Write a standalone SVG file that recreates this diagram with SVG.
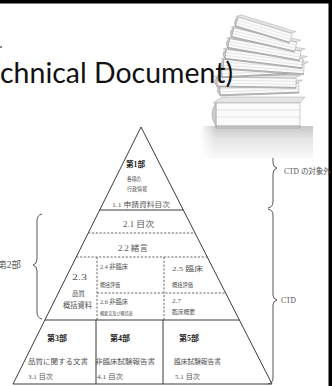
<svg xmlns="http://www.w3.org/2000/svg" width="332" height="386" viewBox="0 0 332 386">
  <defs>
    <style>
      .ln { stroke: #3a3a3a; stroke-width: 1; fill: none; }
      .dash { stroke: #555; stroke-width: 0.9; fill: none; stroke-dasharray: 2.2 1.6; }
      .brace { stroke: #444; stroke-width: 0.9; fill: none; }
      .jp { font-family: "Liberation Serif", "Noto Sans CJK JP", serif; fill: #555; }
      .bold { font-family: "Liberation Serif", "Noto Sans CJK JP", serif; font-weight: bold; fill: #222; }
      .title { font-family: Lato, "Liberation Sans", sans-serif; fill: #111; }
      .page { fill: #fbfbfb; stroke: #9c9c9c; stroke-width: 0.5; }
      .cover { fill: #e4e4e4; stroke: #a8a8a8; stroke-width: 0.5; }
      .spine { fill: #cfcfcf; stroke: #8f8f8f; stroke-width: 0.5; }
      .leaf { stroke: #c4c4c4; stroke-width: 0.4; }
    </style>
    <linearGradient id="shade" x1="0" y1="0" x2="0" y2="1">
      <stop offset="0" stop-color="#c6c6c6"/>
      <stop offset="0.4" stop-color="#e4e4e4"/>
      <stop offset="1" stop-color="#f9f9f9"/>
    </linearGradient>
    <linearGradient id="fadeL" x1="0" y1="0" x2="1" y2="0">
      <stop offset="0" stop-color="#fff" stop-opacity="1"/>
      <stop offset="1" stop-color="#fff" stop-opacity="0"/>
    </linearGradient>
    <!-- one closed book lying flat, origin at bottom-left of the page block -->
    <g id="book">
      <path class="cover" d="M0,-10 L6,-13 L86,-13 L80,-10 Z"/>
      <rect class="page" x="3" y="-10" width="79" height="9"/>
      <line class="leaf" x1="3" y1="-7" x2="82" y2="-7"/>
      <line class="leaf" x1="3" y1="-4" x2="82" y2="-4"/>
      <path class="spine" d="M3,-10 Q-2,-5 3,-1 L3,0 L82,0 L82,-1 L3,-1 Z"/>
    </g>
  </defs>

  <!-- slide frame -->
  <rect x="0" y="0" width="332" height="3.5" fill="#000"/>
  <rect x="328.5" y="0" width="3.5" height="386" fill="#000"/>

  <!-- brace annotations -->
  <g id="connectors">
    <path class="brace" d="M42,214 Q37,215 37,221 L37,259 Q37,264 33,265 Q37,266 37,271 L37,312 Q37,318 42,319"/>
    <path class="brace" d="M268,126 Q273,127 273,133 L273,163 Q273,167 277,168 Q273,169 273,174 L273,202 Q273,207 268,208"/>
    <path class="brace" d="M268,209 Q273,210 273,215 L273,295 Q273,299 277,300 Q273,301 273,305 L273,378 Q273,383 268,384"/>
  </g>

  <!-- stack of books -->
  <g id="books">
    <rect x="200" y="126" width="113" height="32" fill="url(#shade)"/>
    <rect x="200" y="126" width="16" height="32" fill="url(#fadeL)"/>
    <!-- bottom volume -->
    <path class="cover" d="M213,103 L222,97 L305,97 L300,103 Z"/>
    <rect class="page" x="216" y="103" width="84" height="23"/>
    <line class="leaf" x1="216" y1="110" x2="300" y2="110"/>
    <line class="leaf" x1="216" y1="117" x2="300" y2="117"/>
    <path class="spine" d="M216,103 Q208,114 216,126 L216,128 L300,128 L300,126 L216,126 Z"/>
    <use href="#book" transform="translate(217,96) rotate(-2)"/>
    <use href="#book" transform="translate(214,87) rotate(1)"/>
    <use href="#book" transform="translate(219,78) rotate(-3)"/>
    <use href="#book" transform="translate(220,69) rotate(4) scale(1.02,1)"/>
    <use href="#book" transform="translate(222,59) rotate(7) scale(0.98,1)"/>
    <use href="#book" transform="translate(225,48) rotate(10) scale(0.92,1)"/>
    <use href="#book" transform="translate(229,37) rotate(13) scale(0.82,1)"/>
    <use href="#book" transform="translate(233,26) rotate(17) scale(0.72,1)"/>
  </g>

  <!-- heading, printed over the picture -->
  <rect x="0" y="46" width="2" height="2" fill="#888"/>
  <text class="title" x="0" y="83" font-size="28" textLength="233" lengthAdjust="spacingAndGlyphs">chnical Document)</text>

  <!-- pyramid outline and dividers -->
  <g id="pyramid">
    <path class="ln" d="M13,384 L141,127 L272,384 Z"/>
    <line class="ln" x1="99.7" y1="210" x2="183.3" y2="210"/>
    <line class="dash" x1="88.2" y1="233" x2="195.1" y2="233"/>
    <line class="dash" x1="76.3" y1="257" x2="207.3" y2="257"/>
    <line class="dash" x1="97" y1="293" x2="225.7" y2="293"/>
    <line class="dash" x1="97" y1="257" x2="97" y2="320"/>
    <line class="dash" x1="164" y1="257" x2="164" y2="320"/>
    <line class="ln" x1="44.9" y1="320" x2="239.4" y2="320"/>
    <line class="ln" x1="96" y1="320" x2="96" y2="384"/>
    <line class="ln" x1="163" y1="320" x2="163" y2="384"/>
  </g>

  <g id="part1">
    <text class="bold" x="126" y="167" font-size="7.5" textLength="19" lengthAdjust="spacingAndGlyphs">第1部</text>
    <text class="jp" x="127" y="180.5" font-size="6" textLength="14" lengthAdjust="spacingAndGlyphs">各極の</text>
    <text class="jp" x="127" y="190.5" font-size="6" textLength="20" lengthAdjust="spacingAndGlyphs">行政情報</text>
    <text class="jp" x="112" y="207" font-size="7" textLength="58" lengthAdjust="spacingAndGlyphs">1.1 申請資料目次</text>
  </g>

  <g id="part2">
    <text class="jp" x="21" y="268" font-size="9.5" text-anchor="end">第2部</text>
    <text class="jp" x="123" y="227" font-size="8" textLength="31" lengthAdjust="spacingAndGlyphs">2.1 目次</text>
    <text class="jp" x="118" y="251" font-size="8" textLength="30" lengthAdjust="spacingAndGlyphs">2.2 緒言</text>
    <text class="jp" x="72" y="280" font-size="8" textLength="15" lengthAdjust="spacingAndGlyphs">2.3</text>
    <text class="jp" x="72" y="296" font-size="7" textLength="13" lengthAdjust="spacingAndGlyphs">品質</text>
    <text class="jp" x="63" y="308" font-size="7.5" textLength="29" lengthAdjust="spacingAndGlyphs">概括資料</text>
    <text class="jp" x="100" y="269" font-size="7" textLength="28" lengthAdjust="spacingAndGlyphs">2.4 非臨床</text>
    <text class="jp" x="100" y="287" font-size="6" textLength="20" lengthAdjust="spacingAndGlyphs">概括評価</text>
    <text class="jp" x="100" y="304" font-size="7" textLength="28" lengthAdjust="spacingAndGlyphs">2.6 非臨床</text>
    <text class="jp" x="100" y="314.5" font-size="4.5" textLength="33" lengthAdjust="spacingAndGlyphs">概要文及び概括表</text>
    <text class="jp" x="172" y="271" font-size="7" textLength="31" lengthAdjust="spacingAndGlyphs">2.5 臨床</text>
    <text class="jp" x="172" y="287" font-size="6" textLength="21" lengthAdjust="spacingAndGlyphs">概括評価</text>
    <text class="jp" x="172" y="303" font-size="7" textLength="9" lengthAdjust="spacingAndGlyphs">2.7</text>
    <text class="jp" x="172" y="313.5" font-size="6" textLength="23" lengthAdjust="spacingAndGlyphs">臨床概要</text>
  </g>

  <g id="part3">
    <text class="bold" x="47" y="341" font-size="7.5" textLength="20" lengthAdjust="spacingAndGlyphs">第3部</text>
    <text class="jp" x="28" y="363.5" font-size="7" textLength="60" lengthAdjust="spacingAndGlyphs">品質に関する文書</text>
    <text class="jp" x="28" y="378.5" font-size="6.5" textLength="25" lengthAdjust="spacingAndGlyphs">3.1 目次</text>
  </g>

  <g id="part4">
    <text class="bold" x="110" y="341" font-size="7.5" textLength="20" lengthAdjust="spacingAndGlyphs">第4部</text>
    <text class="jp" x="95" y="363.5" font-size="7" textLength="60" lengthAdjust="spacingAndGlyphs">非臨床試験報告書</text>
    <text class="jp" x="97" y="378.5" font-size="6.5" textLength="26" lengthAdjust="spacingAndGlyphs">4.1 目次</text>
  </g>

  <g id="part5">
    <text class="bold" x="179" y="341" font-size="7.5" textLength="20" lengthAdjust="spacingAndGlyphs">第5部</text>
    <text class="jp" x="174" y="363.5" font-size="7" textLength="47" lengthAdjust="spacingAndGlyphs">臨床試験報告書</text>
    <text class="jp" x="175" y="378.5" font-size="6.5" textLength="25" lengthAdjust="spacingAndGlyphs">5.1 目次</text>
  </g>

  <g id="labels">
    <text class="jp" x="284" y="174" font-size="7.5">CTD の対象外</text>
    <text class="jp" x="281" y="303" font-size="7.5">CTD</text>
  </g>
</svg>
